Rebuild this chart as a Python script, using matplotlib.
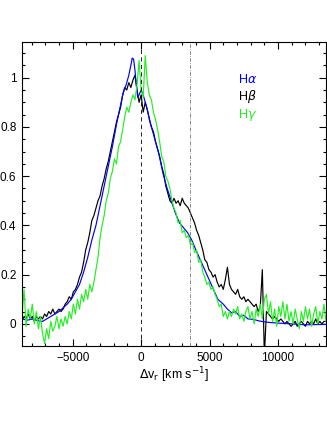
import numpy as np
import matplotlib
matplotlib.use("Agg")
import matplotlib.pyplot as plt
from matplotlib.ticker import MultipleLocator, FuncFormatter

plt.rcParams['font.family'] = ['Liberation Sans', 'DejaVu Sans']
plt.rcParams['mathtext.fontset'] = 'dejavusans'

# Сетка скоростей для Hbeta и Hgamma (км/с), шаг 150
v_start, v_step, n_pts = -8700, 150, 149
v_grid = v_start + v_step * np.arange(n_pts)

# H-beta (чёрный)
hbeta = [
    0.01, 0.03, 0.02, 0.04, 0.02, 0.03, 0.01, 0.03, 0.02, 0.03,
    0.02, 0.04, 0.03, 0.05, 0.04, 0.06, 0.04, 0.05, 0.06, 0.05,
    0.06, 0.08, 0.09, 0.11, 0.10, 0.13, 0.14, 0.16, 0.19, 0.21,
    0.25, 0.30, 0.33, 0.37, 0.42, 0.44, 0.47, 0.50, 0.52, 0.56,
    0.59, 0.63, 0.66, 0.70, 0.74, 0.78, 0.82, 0.85, 0.88, 0.93,
    0.96, 0.95, 0.98, 0.96, 0.99, 1.01, 0.95, 0.90, 0.93, 0.86,
    0.90, 0.87, 0.83, 0.80, 0.78, 0.74, 0.71, 0.68, 0.64, 0.61,
    0.56, 0.53, 0.50, 0.49, 0.51, 0.49, 0.50, 0.48, 0.51, 0.49,
    0.48, 0.47, 0.45, 0.43, 0.41, 0.38, 0.36, 0.33, 0.30, 0.26,
    0.25, 0.22, 0.21, 0.19, 0.20, 0.17, 0.15, 0.16, 0.14, 0.18,
    0.23, 0.16, 0.14, 0.13, 0.12, 0.14, 0.11, 0.10, 0.11, 0.09,
    0.10, 0.09, 0.08, 0.07, 0.08, 0.05, 0.07, 0.22, -0.13, 0.05,
    0.04, 0.03, 0.02, 0.03, 0.02, 0.01, 0.02, 0.01, 0.00, 0.01,
    0.00, -0.01, 0.00, 0.01, -0.01, 0.00, 0.01, 0.00, -0.01, 0.01,
    0.00, 0.01, 0.00, 0.02, 0.00, 0.01, 0.00, 0.01, 0.01,
]

# H-gamma (зелёный)
hgamma = [
    0.03, 0.14, -0.01, 0.06, 0.02, 0.08, 0.00, 0.05, -0.02, 0.03,
    -0.04, -0.08, -0.02, -0.06, 0.01, -0.03, -0.01, 0.03, -0.02, 0.02,
    -0.01, 0.03, 0.00, 0.05, 0.02, 0.08, 0.04, 0.10, 0.06, 0.12,
    0.09, 0.14, 0.10, 0.16, 0.13, 0.17, 0.22, 0.27, 0.35, 0.40,
    0.44, 0.50, 0.53, 0.59, 0.62, 0.67, 0.65, 0.72, 0.74, 0.79,
    0.84, 0.88, 0.86, 0.90, 0.93, 0.91, 0.97, 1.07, 0.95, 0.92,
    1.09, 0.98, 0.93, 0.91, 0.86, 0.83, 0.79, 0.74, 0.68, 0.66,
    0.60, 0.58, 0.55, 0.50, 0.47, 0.45, 0.41, 0.42, 0.37, 0.38,
    0.35, 0.36, 0.32, 0.33, 0.29, 0.30, 0.25, 0.26, 0.21, 0.19,
    0.16, 0.17, 0.14, 0.15, 0.12, 0.10, 0.07, 0.08, 0.03, 0.05,
    0.02, 0.05, 0.03, 0.06, 0.04, 0.07, 0.02, 0.04, 0.01, 0.05,
    0.07, 0.02, 0.05, 0.00, 0.06, 0.03, 0.08, 0.02, 0.10, 0.12,
    0.04, 0.09, 0.01, 0.06, -0.01, 0.07, 0.03, 0.09, 0.02, 0.08,
    0.01, 0.05, 0.00, 0.06, 0.02, -0.02, 0.05, 0.01, 0.07, 0.02,
    0.06, -0.01, 0.04, 0.07, 0.00, 0.05, 0.02, 0.08, 0.01,
]

# H-alpha (синий), более гладкий профиль
halpha_v = [
    -8700, -8300, -7900, -7500, -7200, -6900, -6600, -6300, -6000, -5700,
    -5400, -5100, -4800, -4500, -4200, -3900, -3600, -3300, -3000, -2700,
    -2400, -2100, -1800, -1500, -1300, -1100, -900, -750, -650, -550,
    -450, -350, -250, -150, 0, 150, 300, 450, 700, 1000,
    1300, 1600, 1900, 2200, 2500, 2800, 3100, 3400, 3700, 4000,
    4400, 4800, 5200, 5600, 6000, 6300, 6600, 6900, 7200, 7500,
    7800, 8200, 8600, 9000, 9500, 10000, 11000, 12000, 13500,
]
halpha = [
    0.02, 0.015, 0.02, 0.012, 0.01, 0.02, 0.03, 0.04, 0.05, 0.065,
    0.08, 0.10, 0.13, 0.16, 0.21, 0.27, 0.34, 0.40, 0.48, 0.56,
    0.64, 0.72, 0.81, 0.89, 0.94, 0.97, 1.01, 1.05, 1.08, 1.075,
    1.03, 0.97, 0.92, 0.93, 0.95, 0.93, 0.90, 0.87, 0.81, 0.75,
    0.69, 0.61, 0.55, 0.50, 0.45, 0.41, 0.39, 0.37, 0.34, 0.30,
    0.25, 0.20, 0.15, 0.10, 0.08, 0.06, 0.045, 0.05, 0.03, 0.035,
    0.02, 0.018, 0.012, 0.008, 0.005, 0.003, 0.0, -0.004, -0.002,
]

v_zero = 0
v_dashdot = 3550
green = '#22f022'

fig = plt.figure(figsize=(3.27, 4.23), dpi=100)
ax = fig.add_axes([22 / 327, 1 - 346 / 423, 304 / 327, 304 / 423])

ax.plot(v_grid, hbeta, color='black', lw=0.85)
ax.plot(halpha_v, halpha, color='#0000ff', lw=0.85)
ax.plot(v_grid, hgamma, color=green, lw=0.85)

ax.axvline(v_zero, color='black', lw=0.6, ls=(0, (5, 4)))
ax.axvline(v_dashdot, color='#555555', lw=0.5, ls=(0, (5, 2, 1, 2)))

ax.set_xlim(-8700, 13500)
ax.set_ylim(-0.09, 1.145)

ax.xaxis.set_major_locator(MultipleLocator(5000))
ax.xaxis.set_minor_locator(MultipleLocator(1000))
ax.yaxis.set_major_locator(MultipleLocator(0.2))
ax.yaxis.set_minor_locator(MultipleLocator(0.05))
ax.xaxis.set_major_formatter(FuncFormatter(lambda x, p: f"{int(x)}".replace('-', '\u2212')))
ax.yaxis.set_major_formatter(FuncFormatter(lambda y, p: f"{y:g}" if abs(y) > 1e-9 else "0"))

ax.tick_params(which='both', direction='in', top=True, right=True, labelsize=8.5, width=0.8)
ax.tick_params(which='major', length=5, pad=4)
ax.tick_params(which='minor', length=2.5)
for s in ax.spines.values():
    s.set_linewidth(0.8)

ax.set_xlabel(r'$\Delta$v$_{\rm r}$ [km s$^{-1}$]', fontsize=9, labelpad=1)

ax.text(0.712, 0.866, r'H$\alpha$', color='#0000ff', fontsize=9, transform=ax.transAxes)
ax.text(0.712, 0.808, r'H$\beta$', color='black', fontsize=9, transform=ax.transAxes)
ax.text(0.712, 0.750, r'H$\gamma$', color=green, fontsize=9, transform=ax.transAxes)

fig.savefig('out.png', dpi=100)
